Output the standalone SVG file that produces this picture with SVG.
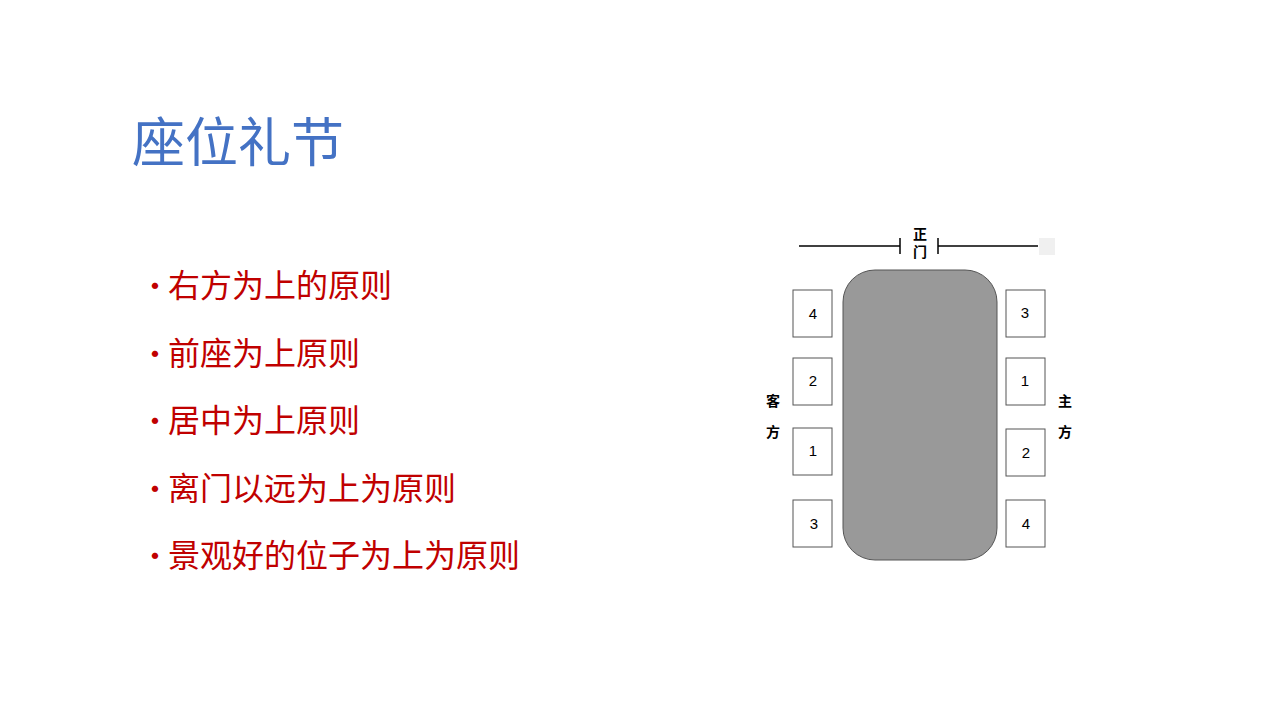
<svg xmlns="http://www.w3.org/2000/svg" width="1280" height="720" viewBox="0 0 1280 720">
<style>
.cjk{font-family:"Noto Sans CJK SC","Liberation Sans",sans-serif}
.b{fill:#c00000;font-size:32px}
.seat{fill:#fff;stroke:#555;stroke-width:1}
.n{font-family:"Liberation Sans",sans-serif;font-size:15px;text-anchor:middle;fill:#000}
.lbl{font-size:14px;font-weight:bold;text-anchor:middle;fill:#000}
</style>
<rect width="1280" height="720" fill="#fff"/>
<text x="132" y="162" class="cjk" font-size="53" fill="#4472c4">座位礼节</text>
<g id="bullets" class="cjk b">
<text x="140" y="297" font-size="30">•</text><text x="168" y="297">右方为上的原则</text>
<text x="140" y="365" font-size="30">•</text><text x="168" y="365">前座为上原则</text>
<text x="140" y="432" font-size="30">•</text><text x="168" y="432">居中为上原则</text>
<text x="140" y="500" font-size="30">•</text><text x="168" y="500">离门以远为上为原则</text>
<text x="140" y="567" font-size="30">•</text><text x="168" y="567">景观好的位子为上为原则</text>
</g>
<g id="door" stroke="#000" stroke-width="1.5">
<line x1="799" y1="246" x2="900" y2="246"/><line x1="900" y1="238" x2="900" y2="254"/>
<line x1="938" y1="246" x2="1038" y2="246"/><line x1="938" y1="238" x2="938" y2="254"/>
</g>
<rect x="1039" y="238" width="16" height="17" fill="#f0f0f0"/>
<text x="920" y="239" class="cjk lbl" font-size="12">正</text>
<text x="920" y="257" class="cjk lbl" font-size="12">门</text>
<g id="table"><rect x="843" y="270" width="154" height="290" rx="32" fill="#999" stroke="#555"/></g>
<g id="seats">
<rect class="seat" x="793" y="290" width="39" height="47"/><text class="n" x="813" y="319">4</text>
<rect class="seat" x="793" y="358" width="39" height="47"/><text class="n" x="813" y="386">2</text>
<rect class="seat" x="793" y="428" width="39" height="47"/><text class="n" x="813" y="456">1</text>
<rect class="seat" x="793" y="500" width="39" height="47"/><text class="n" x="814" y="529">3</text>
<rect class="seat" x="1006" y="290" width="39" height="47"/><text class="n" x="1025" y="318">3</text>
<rect class="seat" x="1006" y="358" width="39" height="47"/><text class="n" x="1025" y="386">1</text>
<rect class="seat" x="1006" y="429" width="39" height="47"/><text class="n" x="1026" y="458">2</text>
<rect class="seat" x="1006" y="500" width="39" height="47"/><text class="n" x="1026" y="529">4</text>
</g>
<text x="773" y="406" class="cjk lbl">客</text><text x="773" y="437" class="cjk lbl">方</text>
<text x="1065" y="406" class="cjk lbl">主</text><text x="1065" y="437" class="cjk lbl">方</text>
</svg>
